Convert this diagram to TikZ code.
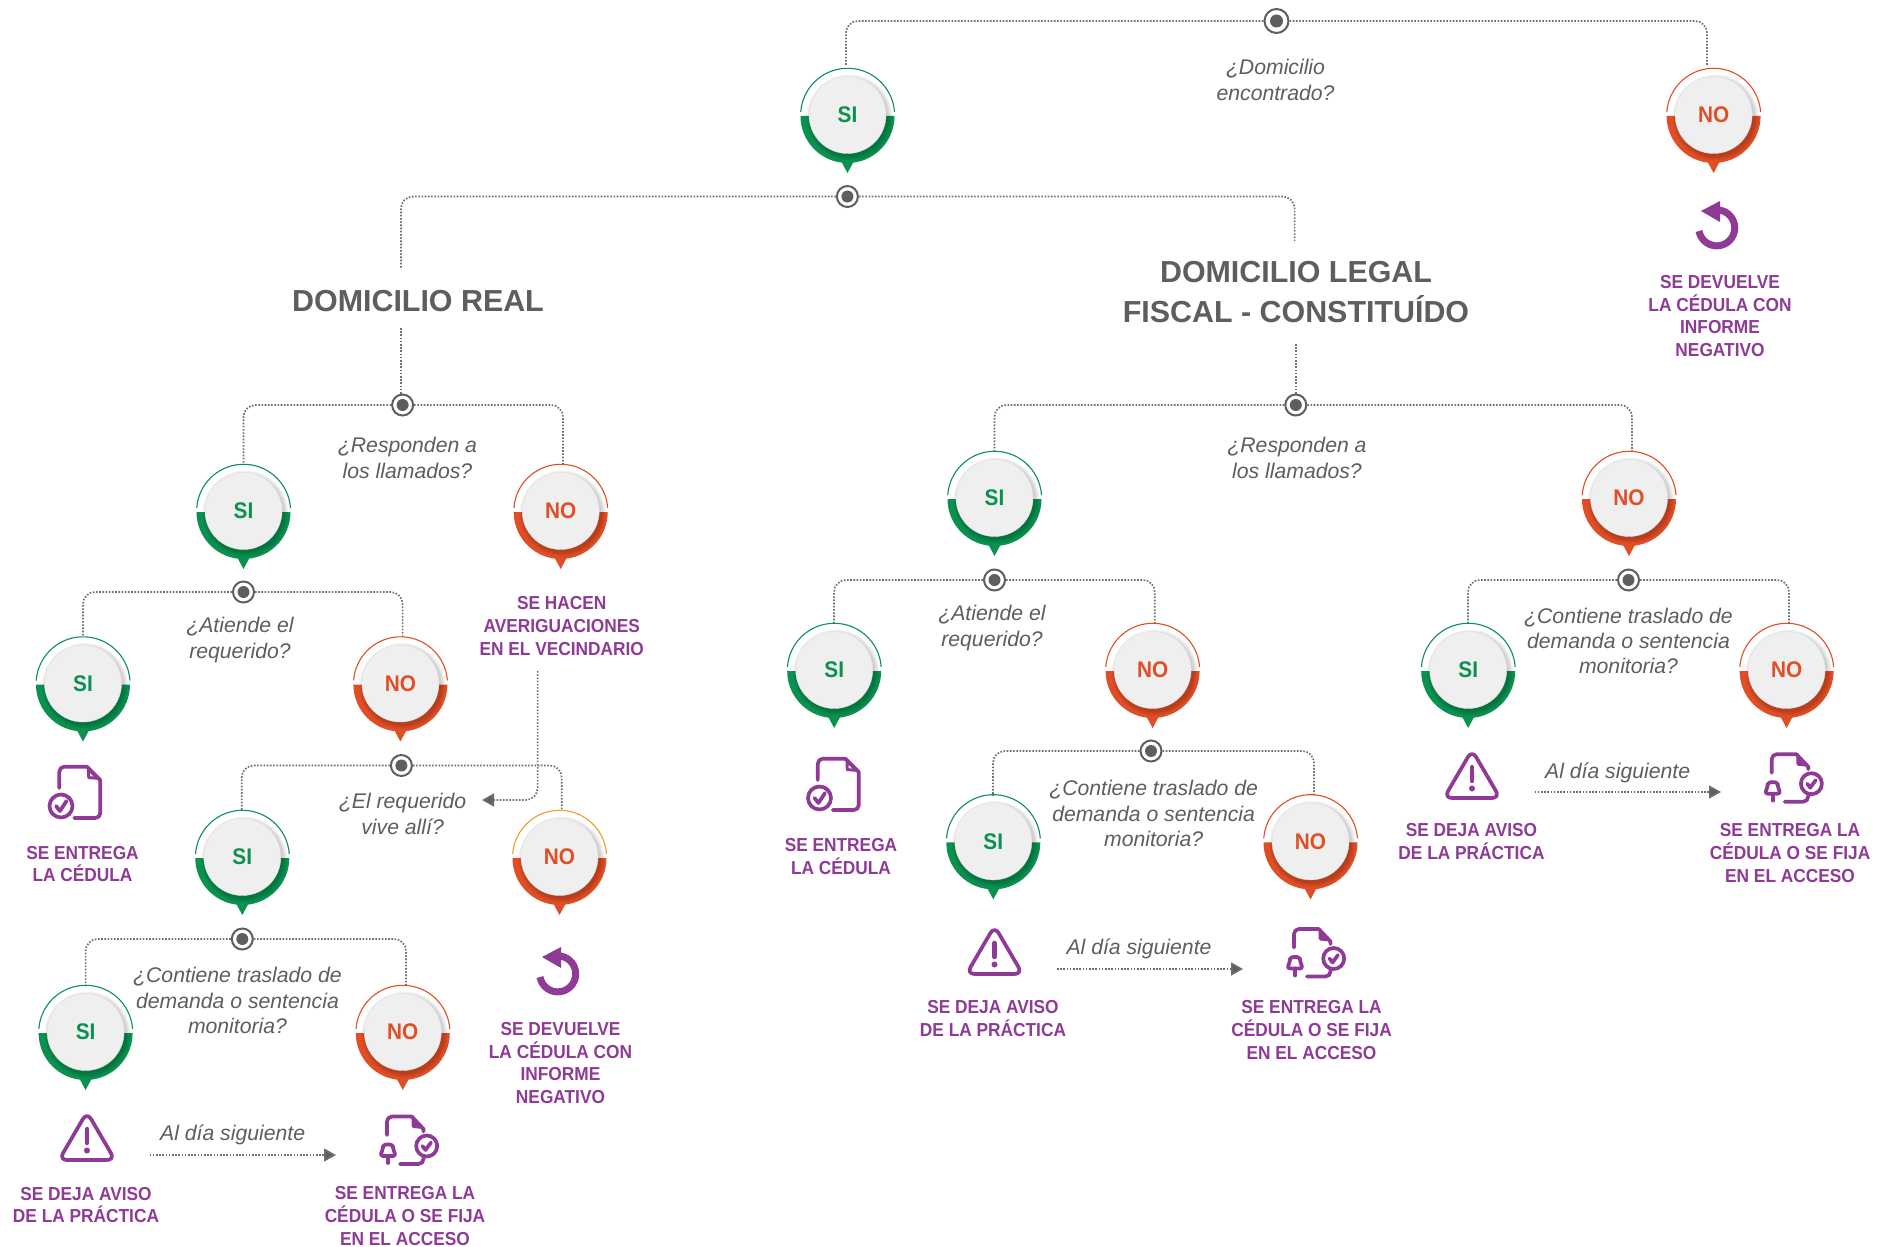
\documentclass[tikz,border=0pt]{standalone}
\usepackage{fontspec}
\setmainfont{Liberation Sans}
\newfontfamily\narrowsans[FakeStretch=0.92]{Liberation Sans}
\usetikzlibrary{arrows.meta}
\definecolor{cgreen}{HTML}{0A9150}
\definecolor{cred}{HTML}{E14E26}
\definecolor{corange}{HTML}{F39A2C}
\definecolor{cpurple}{HTML}{8E3A96}
\definecolor{cgray}{HTML}{5E5E5E}
\definecolor{cline}{HTML}{6E6E6E}
\definecolor{cdisc}{HTML}{EFEFEF}
\tikzset{
  x=0.5pt,y=-0.5pt,
  conn/.style={draw=cline,line width=0.85pt,dash pattern=on 0.8pt off 0.8pt,rounded corners=6pt},
  arrowconn/.style={conn,-{Triangle[length=6pt,width=6.5pt,fill=cgray]}},
  face/.style={circle,minimum size=38.5pt,inner sep=0pt,fill=cdisc,draw=black!12,line width=0.2pt,font=\fontsize{11.3}{12}\narrowsans\bfseries},
  jring/.style={circle,minimum size=10.5pt,inner sep=0pt,draw=cgray,line width=1pt,fill=white},
  question/.style={align=center,text=cgray,font=\fontsize{10.6}{12.6}\selectfont\itshape,inner sep=0pt},
  result/.style={align=center,text=cpurple,font=\fontsize{9.4}{11.45}\narrowsans\bfseries,inner sep=0pt},
  heading/.style={align=center,text=cgray,font=\fontsize{15.2}{20}\selectfont\bfseries,inner sep=0pt},
  iconline/.style={draw=cpurple,line width=1.85pt,line cap=round,line join=round},
}
% name, x, y, text, main colour, arc colour
\newcommand{\badgenode}[6]{%
  \begin{scope}[shift={(#2,#3)}]
    \draw[#6,line width=0.55pt] (47,-3) arc[start angle=-4,end angle=-176,radius=47];
    \fill[#5] (-47,1) arc[start angle=180,end angle=0,radius=47] -- cycle;
    \fill[#5] (-7,45) -- (0,58) -- (7,45) -- cycle;
    \foreach \r in {43,42,41,40,39}{\fill[black,opacity=0.04] (2,2.5) circle[radius=\r];}
    \node[face,text=#5] (#1) at (0,0) {#4};
  \end{scope}}
\newcommand{\junction}[3]{%
  \node[jring] (#1) at (#2,#3) {};
  \fill[cgray] (#1.center) circle[radius=6];}
\newcommand{\iconreturn}[2]{%
  \begin{scope}[shift={(#1,#2)}]
    \draw[cpurple,line width=3.5pt] (-18,3) arc[start angle=170,end angle=-85,radius=18];
    \fill[cpurple] (-16,-17) -- (3,-27) -- (3,-6) -- cycle;
  \end{scope}}
\newcommand{\iconwarn}[2]{%
  \begin{scope}[shift={(#1,#2)}]
    \draw[iconline,rounded corners=4pt] (0,-26) -- (-28,22) -- (28,22) -- cycle;
    \draw[iconline,line width=2.2pt] (0,-9) -- (0,5);
    \fill[cpurple] (0,12.5) circle[radius=3];
  \end{scope}}
\newcommand{\icondoc}[2]{%
  \begin{scope}[shift={(#1,#2)}]
    \draw[iconline,rounded corners=2.5pt] (-14.7,-5) -- (-14.7,-26.3) -- (13,-26.3);
    \draw[iconline] (13,-26.3) -- (26.3,-13);
    \draw[iconline,rounded corners=2.5pt] (26.3,-13) -- (26.3,25) -- (0.3,25);
    \fill[cpurple] (13,-26.3) -- (13,-17) -- (14,-14) -- (26.3,-13) -- cycle;
    \fill[white] (16,-20) -- (16,-17) -- (19.5,-16.5) -- cycle;
    \draw[iconline] (-13,13) circle[radius=11.5];
    \draw[iconline] (-18,13) -- (-14,18) -- (-7.5,8);
  \end{scope}}
\newcommand{\iconbell}[2]{%
  \begin{scope}[shift={(#1,#2)}]
    \draw[iconline,rounded corners=2.5pt] (-22,-6) -- (-22,-24.5) -- (2.7,-24.5);
    \draw[iconline] (2.7,-24.5) -- (14.5,-12) -- (14.5,-9.5);
    \draw[iconline,rounded corners=2.5pt] (14.5,17) -- (14.5,23) -- (-9,23);
    \fill[cpurple] (2.7,-24.5) -- (2.7,-15) -- (4,-13) -- (14.5,-12) -- cycle;
    \draw[iconline] (17.7,5) circle[radius=10.5];
    \draw[iconline] (13.5,5) -- (16.5,9) -- (22,1.5);
    \draw[iconline,rounded corners=1.5pt] (-26,3.5) -- (-16,3.5) -- (-16,8) -- (-13,15) -- (-29,15) -- (-26,8) -- cycle;
    \draw[iconline] (-21,15) -- (-21,22);
  \end{scope}}
\begin{document}
\begin{tikzpicture}
\useasboundingbox (0,0) rectangle (1890,1247);
\fill[white] (0,0) rectangle (1890,1247);

% junctions
\node[jring,minimum size=12pt] (j0) at (1276.5,21) {}; \fill[cgray] (j0.center) circle[radius=6.5];
\junction{j1}{847.4}{196.5}
\junction{j2}{402.6}{405}
\junction{j3}{243.5}{592}
\junction{j4}{401.4}{765.5}
\junction{j5}{242.3}{939}
\junction{j6}{1295.8}{405}
\junction{j7}{994.5}{580}
\junction{j8}{1151}{751}
\junction{j9}{1628.5}{580}

% connector ends
\coordinate (e0l) at (846,66);   \coordinate (e0r) at (1707,66);
\coordinate (e1l) at (401,269);  \coordinate (e1r) at (1294.6,241);
\coordinate (e1b) at (401,328);  \coordinate (e6t) at (1295.8,344);
\coordinate (e2l) at (243.5,464);\coordinate (e2r) at (563,464);
\coordinate (e3l) at (83,637);   \coordinate (e3r) at (402.6,637);
\coordinate (e4l) at (241.7,810);\coordinate (e4r) at (561.7,810);
\coordinate (e5l) at (85.6,986); \coordinate (e5r) at (406,986);
\coordinate (e6l) at (994.5,452);\coordinate (e6r) at (1632,452);
\coordinate (e7l) at (834,624);  \coordinate (e7r) at (1154.8,624);
\coordinate (e8l) at (993,796);  \coordinate (e8r) at (1314,796);
\coordinate (e9l) at (1468,624); \coordinate (e9r) at (1789,624);
\coordinate (vs) at (537.6,671); \coordinate (vt) at (482,800);
\coordinate (a1s) at (149.5,1155); \coordinate (a1t) at (336,1155);
\coordinate (a2s) at (1057,969);   \coordinate (a2t) at (1243,969);
\coordinate (a3s) at (1534.5,792); \coordinate (a3t) at (1721,792);

% connectors
\draw[conn] (j0.west) -| (e0l);  \draw[conn] (j0.east) -| (e0r);
\draw[conn] (j1.west) -| (e1l);  \draw[conn] (j1.east) -| (e1r);
\draw[conn] (e1b) -- (e1b |- j2.north);
\draw[conn] (j6.north) -- (e6t);
\draw[conn] (j2.west) -| (e2l);  \draw[conn] (j2.east) -| (e2r);
\draw[conn] (j3.west) -| (e3l);  \draw[conn] (j3.east) -| (e3r);
\draw[conn] (j4.west) -| (e4l);  \draw[conn] (j4.east) -| (e4r);
\draw[conn] (j5.west) -| (e5l);  \draw[conn] (j5.east) -| (e5r);
\draw[conn] (j6.west) -| (e6l);  \draw[conn] (j6.east) -| (e6r);
\draw[conn] (j7.west) -| (e7l);  \draw[conn] (j7.east) -| (e7r);
\draw[conn] (j8.west) -| (e8l);  \draw[conn] (j8.east) -| (e8r);
\draw[conn] (j9.west) -| (e9l);  \draw[conn] (j9.east) -| (e9r);
\draw[arrowconn] (vs) |- (vt);
\draw[arrowconn] (a1s) -- (a1t);
\draw[arrowconn] (a2s) -- (a2t);
\draw[arrowconn] (a3s) -- (a3t);

% badges
\badgenode{b0s}{847.5}{115}{SI}{cgreen}{cgreen}
\badgenode{b0n}{1713.6}{115}{NO}{cred}{cred}
\badgenode{b1s}{243.5}{511}{SI}{cgreen}{cgreen}
\badgenode{b1n}{560.7}{511}{NO}{cred}{cred}
\badgenode{b2s}{83}{683.5}{SI}{cgreen}{cgreen}
\badgenode{b2n}{400.4}{683.5}{NO}{cred}{cred}
\badgenode{b3s}{242.3}{857}{SI}{cgreen}{cgreen}
\badgenode{b3n}{559.5}{857}{NO}{cred}{corange}
\badgenode{b4s}{85.6}{1032}{SI}{cgreen}{cgreen}
\badgenode{b4n}{402.8}{1032}{NO}{cred}{cred}
\badgenode{b5s}{994.5}{498}{SI}{cgreen}{cgreen}
\badgenode{b5n}{1629}{498}{NO}{cred}{cred}
\badgenode{b6s}{834.2}{670}{SI}{cgreen}{cgreen}
\badgenode{b6n}{1152.6}{670}{NO}{cred}{cred}
\badgenode{b7s}{993.3}{841.4}{SI}{cgreen}{cgreen}
\badgenode{b7n}{1310.5}{841.4}{NO}{cred}{cred}
\badgenode{b8s}{1468.2}{670}{SI}{cgreen}{cgreen}
\badgenode{b8n}{1786.6}{670}{NO}{cred}{cred}

% icons
\iconreturn{1717}{228}
\iconreturn{558}{974}
\icondoc{74}{793}
\icondoc{832.5}{785}
\iconwarn{87}{1138}
\iconwarn{994.5}{952}
\iconwarn{1472}{776}
\iconbell{409}{1141}
\iconbell{1316}{953.5}
\iconbell{1793.7}{778.7}

% headings
\node[heading] (hreal) at (418,301) {DOMICILIO REAL};
\node[heading] (hlegal) at (1296,292) {DOMICILIO LEGAL\\FISCAL - CONSTITUÍDO};

% questions
\node[question] (q0) at (1275.5,80) {¿Domicilio\\encontrado?};
\node[question] (q1) at (407.5,458) {¿Responden a\\los llamados?};
\node[question] (q2) at (1297,458) {¿Responden a\\los llamados?};
\node[question] (q3) at (240,640) {¿Atiende el\\requerido?};
\node[question] (q4) at (992,628) {¿Atiende el\\requerido?};
\node[question] (q5) at (402.6,814) {¿El requerido\\vive allí?};
\node[question] (q6) at (237.5,1000.5) {¿Contiene traslado de\\demanda o sentencia\\monitoria?};
\node[question] (q7) at (1153.6,813.6) {¿Contiene traslado de\\demanda o sentencia\\monitoria?};
\node[question] (q8) at (1628.5,641) {¿Contiene traslado de\\demanda o sentencia\\monitoria?};
\node[question] (d1) at (232.6,1135) {Al día siguiente};
\node[question] (d2) at (1139,949) {Al día siguiente};
\node[question] (d3) at (1617.6,772.5) {Al día siguiente};

% results
\node[result] (r0) at (1720,316) {SE DEVUELVE\\LA CÉDULA CON\\INFORME\\NEGATIVO};
\node[result] (r1) at (561.7,626) {SE HACEN\\AVERIGUACIONES\\EN EL VECINDARIO};
\node[result] (r2) at (82.5,864) {SE ENTREGA\\LA CÉDULA};
\node[result] (r3) at (841,856.5) {SE ENTREGA\\LA CÉDULA};
\node[result] (r4) at (560.5,1063) {SE DEVUELVE\\LA CÉDULA CON\\INFORME\\NEGATIVO};
\node[result] (r5) at (86,1205) {SE DEJA AVISO\\DE LA PRÁCTICA};
\node[result] (r6) at (993,1018.6) {SE DEJA AVISO\\DE LA PRÁCTICA};
\node[result] (r7) at (1471.5,841.5) {SE DEJA AVISO\\DE LA PRÁCTICA};
\node[result] (r8) at (405,1216) {SE ENTREGA LA\\CÉDULA O SE FIJA\\EN EL ACCESO};
\node[result] (r9) at (1311.5,1030) {SE ENTREGA LA\\CÉDULA O SE FIJA\\EN EL ACCESO};
\node[result] (r10) at (1790,853) {SE ENTREGA LA\\CÉDULA O SE FIJA\\EN EL ACCESO};
\end{tikzpicture}
\end{document}
